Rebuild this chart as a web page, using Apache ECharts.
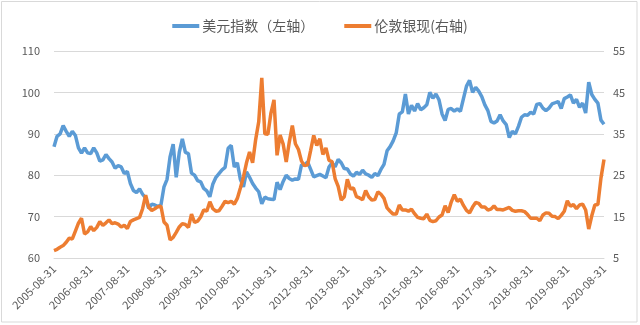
<!DOCTYPE html>
<html>
<head>
<meta charset="utf-8">
<script src="https://cdn.jsdelivr.net/npm/echarts@6/dist/echarts.min.js"></script>
<style>
html,body{margin:0;padding:0;background:#fff;}
#main{width:640px;height:325px;}
</style>
</head>
<body>
<div id="main"></div>
<script>
// Month-end category labels, 2005-08-31 … 2020-08-31
var startYear = 2005, startMonth = 8, monthCount = 181;
var categories = [];
(function(){
  var dim = [31,28,31,30,31,30,31,31,30,31,30,31];
  for (var i = 0; i < monthCount; i++) {
    var m0 = startMonth - 1 + i;
    var y = startYear + Math.floor(m0 / 12);
    var m = m0 % 12;
    var d = dim[m];
    if (m === 1 && ((y % 4 === 0 && y % 100 !== 0) || y % 400 === 0)) d = 29;
    categories.push(y + '-' + (m + 1 < 10 ? '0' : '') + (m + 1) + '-' + d);
  }
})();

var seriesNames = ['美元指数（左轴）', '伦敦银现(右轴)'];

// US dollar index (left axis), monthly
var dollarIndex = [
  86.9, 89.4, 90.0, 92.0, 90.6,
  89.4, 90.6, 89.6, 86.6, 85.3, 86.6, 85.4, 85.2, 86.6, 85.4, 83.4, 83.7,
  85.0, 84.0, 83.2, 81.7, 82.3, 82.0, 80.4, 80.9, 78.0, 76.3, 75.8, 76.7,
  75.4, 74.5, 72.0, 73.0, 72.8, 72.5, 72.8, 77.2, 79.0, 84.5, 87.5, 79.5,
  85.5, 88.8, 85.5, 85.2, 80.5, 80.0, 78.7, 78.4, 76.8, 76.2, 74.8, 77.9,
  79.5, 80.4, 81.3, 81.9, 86.5, 87.2, 82.0, 83.0, 79.0, 77.2, 80.8, 79.5,
  78.0, 76.9, 76.0, 73.1, 74.7, 74.3, 74.2, 74.1, 78.3, 76.5, 78.5, 80.0,
  79.2, 78.8, 79.1, 79.0, 82.5, 82.5, 83.2, 81.4, 79.6, 79.9, 80.2, 79.8,
  79.4, 82.0, 83.0, 82.0, 83.8, 83.0, 81.6, 81.5, 80.3, 79.8, 80.7, 80.2,
  81.2, 80.3, 80.0, 79.5, 80.4, 79.9, 81.4, 82.6, 85.9, 86.9, 88.3, 90.2,
  94.8, 95.3, 99.6, 94.8, 96.9, 95.5, 97.3, 95.8, 96.3, 97.0, 100.0, 98.6,
  99.6, 98.2, 94.8, 93.2, 95.9, 96.1, 95.5, 96.0, 95.4, 98.5, 101.5, 102.9,
  100.0, 101.2, 100.3, 99.0, 97.0, 95.6, 93.0, 92.6, 93.1, 94.6, 93.1, 92.2,
  89.1, 90.6, 90.0, 91.8, 94.0, 94.6, 94.5, 95.2, 94.8, 97.1, 97.3, 96.2,
  95.6, 96.2, 97.2, 97.5, 97.8, 96.1, 98.5, 98.9, 99.4, 97.4, 98.3, 96.4,
  97.4, 95.0, 102.5, 99.5, 98.3, 97.4, 93.3, 92.3
];

// London spot silver (right axis), monthly
var silverSpot = [
  6.8, 7.1, 7.6, 8.0, 8.8,
  9.8, 9.6, 11.5, 13.4, 14.6, 10.8, 11.3, 12.6, 11.6, 12.4, 13.8, 12.9,
  13.5, 14.2, 13.3, 13.5, 13.2, 12.5, 12.9, 12.1, 13.8, 14.2, 14.5, 14.8,
  16.9, 20.2, 17.2, 16.5, 16.9, 17.4, 17.5, 13.7, 12.9, 9.4, 10.0, 11.2,
  12.5, 13.3, 13.1, 12.4, 15.6, 13.6, 13.9, 14.9, 16.6, 16.3, 18.6, 16.9,
  16.3, 16.4, 17.5, 18.7, 18.4, 18.7, 18.0, 19.4, 21.9, 24.6, 28.0, 30.6,
  28.0, 33.6, 37.9, 48.5, 35.0, 34.9, 40.0, 43.2, 29.8, 34.7, 32.5, 28.2,
  33.0, 37.0, 32.6, 31.2, 28.4, 27.3, 27.5, 31.0, 34.6, 32.2, 33.8, 30.0,
  31.6, 28.6, 28.3, 24.2, 22.3, 19.0, 19.8, 24.0, 21.7, 21.9, 19.8, 19.5,
  19.1, 21.3, 19.8, 19.0, 19.1, 21.0, 20.4, 19.4, 17.1, 16.3, 15.6, 15.6,
  17.8, 16.6, 16.6, 16.3, 16.8, 15.7, 14.8, 14.6, 14.5, 15.6, 14.1, 13.8,
  14.0, 14.9, 15.4, 17.6, 16.0, 18.5, 20.3, 18.7, 19.2, 17.7, 16.5, 15.9,
  17.3, 18.4, 18.2, 17.3, 17.3, 16.6, 16.8, 17.6, 16.7, 16.7, 16.6, 16.9,
  17.2, 16.5, 16.3, 16.4, 16.4, 16.2, 15.5, 14.6, 14.6, 14.6, 14.0, 15.4,
  15.9, 15.8, 15.1, 15.0, 14.5, 15.3, 16.3, 18.8, 17.5, 17.9, 16.9, 17.8,
  18.0, 16.6, 12.0, 15.2, 17.8, 17.9, 24.3, 28.8
];

var leftTicks = {min: 60, max: 110, interval: 10};
var rightTicks = {min: 5, max: 55, interval: 10};

var chart = echarts.init(document.getElementById('main'), null, {renderer: 'canvas'});
var labelColor = '#595959';
var fontFam = '"Noto Sans CJK SC", "Noto Sans", sans-serif';
chart.setOption({
  animation: false,
  backgroundColor: '#ffffff',
  graphic: [{
    type: 'rect',
    shape: {x: 1.5, y: 1.5, width: 635.5, height: 320.5},
    style: {fill: 'none', stroke: '#d9d9d9', lineWidth: 1},
    silent: true
  }],
  legend: {
    top: 14,
    left: 'center',
    itemWidth: 27,
    itemHeight: 4,
    itemGap: 30,
    icon: 'rect',
    textStyle: {color: labelColor, fontSize: 14, fontFamily: fontFam, padding: [0, 0, 0, -2]},
    data: seriesNames
  },
  grid: {left: 54, right: 36, top: 51, height: 207, containLabel: false},
  xAxis: {
    type: 'category',
    data: categories,
    boundaryGap: false,
    axisLine: {show: true, lineStyle: {color: '#d9d9d9'}},
    axisTick: {show: false},
    axisLabel: {
      interval: 11,
      rotate: 45,
      color: labelColor,
      fontSize: 11,
      fontFamily: fontFam,
      margin: 9
    },
    splitLine: {show: false}
  },
  yAxis: [{
    type: 'value',
    min: leftTicks.min, max: leftTicks.max, interval: leftTicks.interval,
    position: 'left',
    axisLine: {show: false},
    axisTick: {show: false},
    axisLabel: {color: labelColor, fontSize: 11, fontFamily: fontFam, margin: 14},
    splitLine: {show: true, lineStyle: {color: '#d9d9d9', width: 1}}
  }, {
    type: 'value',
    min: rightTicks.min, max: rightTicks.max, interval: rightTicks.interval,
    position: 'right',
    axisLine: {show: false},
    axisTick: {show: false},
    axisLabel: {color: labelColor, fontSize: 11, fontFamily: fontFam, margin: 9},
    splitLine: {show: false}
  }],
  series: [{
    name: seriesNames[0],
    type: 'line',
    yAxisIndex: 0,
    data: dollarIndex,
    showSymbol: false,
    lineStyle: {color: '#5B9BD5', width: 3.5},
    itemStyle: {color: '#5B9BD5'},
    z: 2
  }, {
    name: seriesNames[1],
    type: 'line',
    yAxisIndex: 1,
    data: silverSpot,
    showSymbol: false,
    lineStyle: {color: '#ED7D31', width: 3.5},
    itemStyle: {color: '#ED7D31'},
    z: 3
  }]
});
</script>
</body>
</html>
